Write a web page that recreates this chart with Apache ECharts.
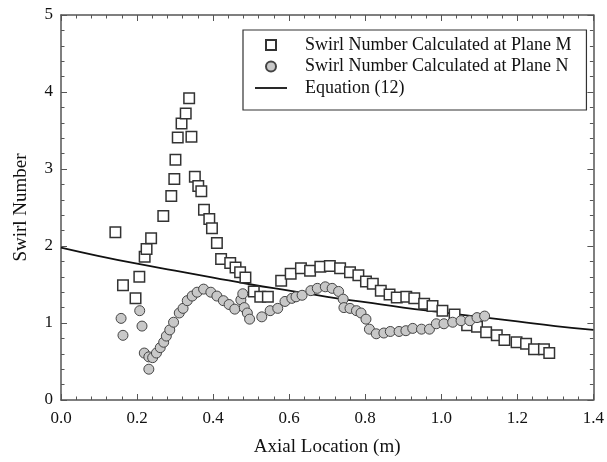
<!DOCTYPE html>
<html>
<head>
<meta charset="utf-8">
<script src="https://cdn.jsdelivr.net/npm/echarts@6/dist/echarts.min.js"></script>
<style>
  html, body { margin: 0; padding: 0; background: #fff; }
  #chart { width: 607px; height: 462px; }
</style>
</head>
<body>
<div id="chart"></div>
<script>
// Plane M (squares)
var planeM_x = [0.143, 0.163, 0.196, 0.206, 0.220, 0.225, 0.237, 0.269, 0.290, 0.298, 0.301, 0.307, 0.317, 0.328, 0.337, 0.343,
    0.352, 0.361, 0.369, 0.376, 0.390, 0.397, 0.410, 0.421, 0.445, 0.459, 0.471, 0.485, 0.507, 0.524, 0.544,
    0.579, 0.604, 0.631, 0.655, 0.682, 0.707, 0.734, 0.760, 0.782, 0.802, 0.820, 0.841, 0.864, 0.883, 0.908,
    0.929, 0.955, 0.977, 1.003, 1.035, 1.068, 1.094, 1.118, 1.146, 1.166, 1.198, 1.223, 1.244, 1.270, 1.284];
var planeM_y = [2.18, 1.49, 1.32, 1.60, 1.86, 1.96, 2.10, 2.39, 2.65, 2.87, 3.12, 3.41, 3.59, 3.72, 3.92, 3.42,
    2.90, 2.78, 2.71, 2.47, 2.35, 2.23, 2.04, 1.83, 1.78, 1.72, 1.66, 1.59, 1.41, 1.34, 1.34,
    1.55, 1.64, 1.71, 1.68, 1.73, 1.74, 1.71, 1.66, 1.62, 1.54, 1.51, 1.42, 1.37, 1.33, 1.34,
    1.32, 1.25, 1.22, 1.16, 1.11, 0.97, 0.95, 0.88, 0.84, 0.78, 0.75, 0.73, 0.66, 0.66, 0.61];

// Plane N (circles)
var planeN_x = [0.158, 0.163, 0.207, 0.213, 0.219, 0.231, 0.231, 0.241, 0.251, 0.261, 0.270, 0.277, 0.286, 0.296,
    0.311, 0.321, 0.332, 0.345, 0.358, 0.375, 0.394, 0.410, 0.427, 0.442, 0.457, 0.473, 0.478, 0.482, 0.490, 0.496,
    0.528, 0.550, 0.570, 0.589, 0.607, 0.618, 0.634, 0.657, 0.674, 0.695, 0.713, 0.730, 0.742, 0.744, 0.760,
    0.777, 0.789, 0.802, 0.811, 0.829, 0.849, 0.866, 0.889, 0.907, 0.925, 0.948, 0.969, 0.987, 1.007, 1.030,
    1.052, 1.075, 1.094, 1.114];
var planeN_y = [1.06, 0.84, 1.16, 0.96, 0.61, 0.56, 0.40, 0.55, 0.61, 0.68, 0.75, 0.83, 0.91, 1.01,
    1.13, 1.19, 1.29, 1.35, 1.40, 1.44, 1.40, 1.35, 1.29, 1.24, 1.18, 1.30, 1.38, 1.20, 1.13, 1.05,
    1.08, 1.16, 1.19, 1.28, 1.32, 1.34, 1.36, 1.42, 1.45, 1.47, 1.45, 1.41, 1.31, 1.20, 1.19,
    1.16, 1.13, 1.05, 0.92, 0.86, 0.87, 0.89, 0.89, 0.90, 0.93, 0.92, 0.92, 0.99, 0.99, 1.01,
    1.03, 1.03, 1.07, 1.09];

// Equation (12) curve
var eq_x = [0.0, 0.1, 0.2, 0.3, 0.4, 0.5, 0.6, 0.7, 0.8, 0.9, 1.0, 1.1, 1.2, 1.3, 1.4];
var eq_y = [1.98, 1.87, 1.77, 1.68, 1.59, 1.50, 1.42, 1.34, 1.27, 1.20, 1.14, 1.08, 1.02, 0.96, 0.91];

var names = ['Swirl Number Calculated at Plane M', 'Swirl Number Calculated at Plane N', 'Equation (12)'];

function pairs(xs, ys) {
    var out = [];
    for (var i = 0; i < xs.length; i++) out.push([xs[i], ys[i]]);
    return out;
}

var font = 'Liberation Serif';
var axisCol = '#555';

// common frame/tick settings for all four sides
function frameAxis(extra) {
    var a = {
        type: 'value',
        axisLine: { show: true, onZero: false, lineStyle: { color: axisCol, width: 1.5 } },
        axisTick: { show: true, inside: true, length: 6, lineStyle: { color: axisCol } },
        minorTick: { show: true, splitNumber: 5, length: 3.5, lineStyle: { color: axisCol } },
        splitLine: { show: false }
    };
    for (var k in extra) a[k] = extra[k];
    return a;
}

var myChart = echarts.init(document.getElementById('chart'));
var option = {
    animation: false,
    grid: { left: 61, right: 10, top: 15, bottom: 62 },
    legend: {
        orient: 'vertical',
        left: 243,
        top: 30,
        padding: [6, 15, 13, 12],
        itemGap: 3.5,
        itemWidth: 32,
        itemHeight: 10,
        borderColor: '#333',
        borderWidth: 1.2,
        borderRadius: 0,
        textStyle: { fontFamily: font, fontSize: 18, color: '#111', padding: [0, 0, 0, 13] },
        data: [
            { name: names[0], icon: 'path://M0,0L10,0L10,10L0,10Z' },
            { name: names[1], icon: 'circle' },
            { name: names[2], icon: 'path://M0,0L32,0L32,1.8L0,1.8Z' }
        ]
    },
    xAxis: [frameAxis({
        min: 0, max: 1.4, interval: 0.2, position: 'bottom',
        name: 'Axial Location (m)', nameLocation: 'middle', nameGap: 38,
        nameTextStyle: { fontFamily: font, fontSize: 19, color: '#111' },
        axisLabel: { fontFamily: font, fontSize: 17, color: '#111', margin: 10,
            formatter: function (v) { return v.toFixed(1); } }
    }), frameAxis({
        min: 0, max: 1.4, interval: 0.2, position: 'top',
        axisLabel: { show: false }
    })],
    yAxis: [frameAxis({
        min: 0, max: 5, interval: 1, position: 'left',
        name: 'Swirl Number', nameLocation: 'middle', nameGap: 30,
        nameTextStyle: { fontFamily: font, fontSize: 19, color: '#111' },
        axisLabel: { fontFamily: font, fontSize: 17, color: '#111', margin: 8 }
    }), frameAxis({
        min: 0, max: 5, interval: 1, position: 'right',
        axisLabel: { show: false }
    })],
    series: [{
        name: names[2],
        type: 'line',
        data: pairs(eq_x, eq_y),
        smooth: true,
        symbol: 'none',
        lineStyle: { color: '#111', width: 1.8 },
        itemStyle: { color: '#111' },
        z: 2
    }, {
        name: names[0],
        type: 'scatter',
        symbol: 'rect',
        symbolSize: 10.5,
        data: pairs(planeM_x, planeM_y),
        itemStyle: { color: '#fff', borderColor: '#333', borderWidth: 1.5, opacity: 1 },
        z: 3
    }, {
        name: names[1],
        type: 'scatter',
        symbol: 'circle',
        symbolSize: 10,
        data: pairs(planeN_x, planeN_y),
        itemStyle: { color: '#c8c8c8', borderColor: '#444', borderWidth: 1, opacity: 1 },
        z: 4
    }]
};
myChart.setOption(option);
</script>
</body>
</html>
